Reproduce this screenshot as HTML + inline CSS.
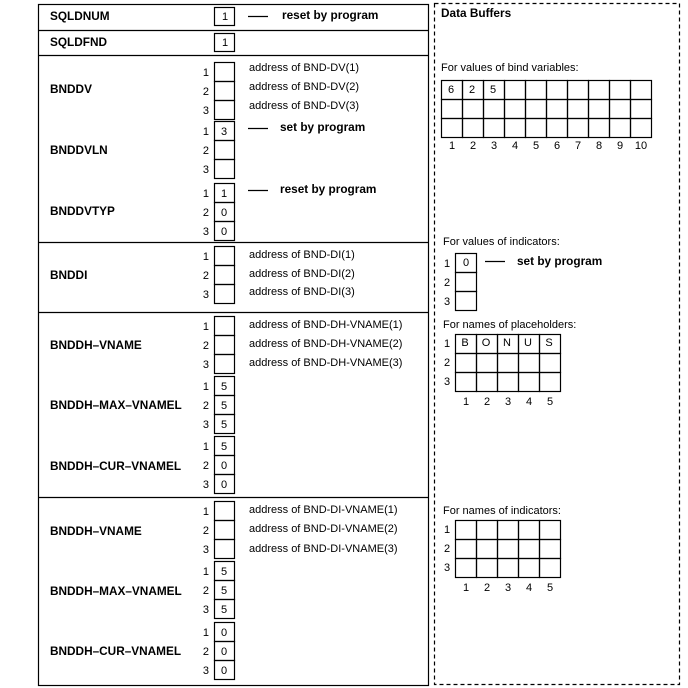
<!DOCTYPE html>
<html><head><meta charset="utf-8"><style>
html,body{margin:0;padding:0;background:#fff}
svg{display:block}
text{font-family:"Liberation Sans",Arial,sans-serif;font-size:11px;fill:#000}
.b{font-weight:bold;font-size:11.8px}
</style></head><body>
<svg width="688" height="688" viewBox="0 0 688 688" xmlns="http://www.w3.org/2000/svg">
<g fill="none" stroke="#000" stroke-width="1.2">
<rect x="38.5" y="4.5" width="390" height="681"/>
<line x1="38" y1="30.5" x2="429" y2="30.5"/>
<line x1="38" y1="55.5" x2="429" y2="55.5"/>
<line x1="38" y1="242.5" x2="429" y2="242.5"/>
<line x1="38" y1="312.5" x2="429" y2="312.5"/>
<line x1="38" y1="497.5" x2="429" y2="497.5"/>
<rect x="434.5" y="3.5" width="245" height="681" stroke-dasharray="4,3"/>
<rect x="214.5" y="7.5" width="20" height="18"/>
<rect x="214.5" y="33.5" width="20" height="18"/>
<line x1="248" y1="16.5" x2="268" y2="16.5"/>
<line x1="248" y1="128.5" x2="268" y2="128.5"/>
<line x1="248" y1="190.5" x2="268" y2="190.5"/>
<line x1="485" y1="261.5" x2="505" y2="261.5"/>
</g>
<g id="boxes" fill="none" stroke="#000" stroke-width="1.2"></g>
<text x="50" y="20" class="b">SQLDNUM</text>
<text x="222" y="20">1</text>
<text x="282" y="19" class="b">reset by program</text>
<text x="50" y="46" class="b">SQLDFND</text>
<text x="222" y="46">1</text>
<text x="50" y="93" class="b">BNDDV</text>
<text x="50" y="154" class="b">BNDDVLN</text>
<text x="50" y="215" class="b">BNDDVTYP</text>
<text x="50" y="279" class="b">BNDDI</text>
<text x="50" y="349" class="b">BNDDH–VNAME</text>
<text x="50" y="409" class="b">BNDDH–MAX–VNAMEL</text>
<text x="50" y="470" class="b">BNDDH–CUR–VNAMEL</text>
<text x="50" y="535" class="b">BNDDH–VNAME</text>
<text x="50" y="595" class="b">BNDDH–MAX–VNAMEL</text>
<text x="50" y="655" class="b">BNDDH–CUR–VNAMEL</text>
<text x="280" y="131" class="b">set by program</text>
<text x="280" y="193" class="b">reset by program</text>
<text x="249" y="71">address of BND-DV(1)</text>
<text x="249" y="90">address of BND-DV(2)</text>
<text x="249" y="109">address of BND-DV(3)</text>
<text x="249" y="258">address of BND-DI(1)</text>
<text x="249" y="277">address of BND-DI(2)</text>
<text x="249" y="295">address of BND-DI(3)</text>
<text x="249" y="328">address of BND-DH-VNAME(1)</text>
<text x="249" y="347">address of BND-DH-VNAME(2)</text>
<text x="249" y="366">address of BND-DH-VNAME(3)</text>
<text x="249" y="513">address of BND-DI-VNAME(1)</text>
<text x="249" y="532">address of BND-DI-VNAME(2)</text>
<text x="249" y="552">address of BND-DI-VNAME(3)</text>
<text x="441" y="17" class="b">Data Buffers</text>
<text x="441" y="71">For values of bind variables:</text>
<text x="443" y="245">For values of indicators:</text>
<text x="517" y="265" class="b">set by program</text>
<text x="443" y="328">For names of placeholders:</text>
<text x="443" y="514">For names of indicators:</text>
<g id="extra"></g>
</svg>
<script>
var NS="http://www.w3.org/2000/svg";
var bx=document.getElementById('boxes'),ex=document.getElementById('extra');
function R(x,y,w,h){var r=document.createElementNS(NS,'rect');r.setAttribute('x',x+.5);r.setAttribute('y',y+.5);r.setAttribute('width',w);r.setAttribute('height',h);bx.appendChild(r);}
function T(x,y,s,a){var t=document.createElementNS(NS,'text');t.setAttribute('x',x);t.setAttribute('y',y);if(a)t.setAttribute('text-anchor',a);t.textContent=s;ex.appendChild(t);}
var groups=[[62,['','','']],[121,['3','','']],[183,['1','0','0']],[246,['','','']],[316,['','','']],[376,['5','5','5']],[436,['5','0','0']],[501,['','','']],[561,['5','5','5']],[622,['0','0','0']]];
groups.forEach(function(g){for(var i=0;i<3;i++){var y=g[0]+i*19;R(214,y,20,19);T(209,y+14,String(i+1),'end');if(g[1][i])T(224,y+14,g[1][i],'middle');}});
var bv=['6','2','5'];
for(var c=0;c<10;c++){for(var r=0;r<3;r++){R(441+c*21,80+r*19,21,19);}if(bv[c])T(451+c*21,93,bv[c],'middle');T(452+c*21,149,String(c+1),'middle');}
for(var r=0;r<3;r++){R(455,253+r*19,21,19);T(447,267+r*19,String(r+1),'middle');}
T(466,266,'0','middle');
var pl=['B','O','N','U','S'];
for(var r=0;r<3;r++){T(447,347+r*19,String(r+1),'middle');T(447,533+r*19,String(r+1),'middle');}
for(var c=0;c<5;c++){for(var r=0;r<3;r++){R(455+c*21,334+r*19,21,19);R(455+c*21,520+r*19,21,19);}
T(465+c*21,346,pl[c],'middle');T(466+c*21,405,String(c+1),'middle');T(466+c*21,591,String(c+1),'middle');}
</script>
</body></html>
